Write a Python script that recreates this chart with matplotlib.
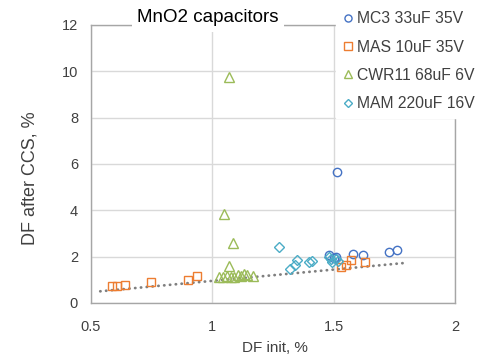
import numpy as np
import matplotlib
matplotlib.use("Agg")
import matplotlib.pyplot as plt

plt.rcParams['font.family'] = ['Liberation Sans', 'DejaVu Sans']

# series
mc3_x = [1.48, 1.50, 1.51, 1.515, 1.58, 1.62, 1.73, 1.76]
mc3_y = [2.05, 1.95, 2.0, 5.65, 2.1, 2.05, 2.2, 2.3]

mas_x = [0.59, 0.61, 0.64, 0.75, 0.90, 0.94, 1.53, 1.55, 1.57, 1.63]
mas_y = [0.72, 0.75, 0.76, 0.90, 1.00, 1.15, 1.55, 1.65, 1.85, 1.75]

cwr_x = [1.07, 1.05, 1.085, 1.07, 1.03, 1.045, 1.06, 1.08, 1.09, 1.105, 1.12, 1.13, 1.145, 1.17]
cwr_y = [9.75, 3.85, 2.6, 1.6, 1.1, 1.1, 1.15, 1.1, 1.1, 1.2, 1.15, 1.25, 1.2, 1.15]

mam_x = [1.275, 1.32, 1.34, 1.35, 1.40, 1.41, 1.48, 1.49, 1.495, 1.51, 1.52]
mam_y = [2.4, 1.45, 1.65, 1.85, 1.75, 1.8, 2.0, 1.9, 1.75, 1.9, 1.8]

trend_x = [0.54, 1.79]
trend_y = [0.50, 1.72]

labels = ['MC3 33uF 35V', 'MAS 10uF 35V', 'CWR11 68uF 6V', 'MAM 220uF 16V']

fig = plt.figure(figsize=(4.79, 3.61), dpi=100)
ax = fig.add_axes([0.189, 0.161, 0.761, 0.770])

# dotted trend line
ax.plot(trend_x, trend_y, color='#7f7f7f', linewidth=2, linestyle=(0, (0.1, 2)),
        dash_capstyle='round', zorder=2)

ms = 6
ax.plot(mc3_x, mc3_y, 'o', ms=ms, mfc='none', mec='#4472c4', mew=1, label=labels[0], zorder=3)
ax.plot(mas_x, mas_y, 's', ms=ms, mfc='none', mec='#ed7d31', mew=1, label=labels[1], zorder=3)
ax.plot(cwr_x, cwr_y, '^', ms=ms + 0.5, mfc='none', mec='#9bbb59', mew=1, label=labels[2], zorder=3)
ax.plot(mam_x, mam_y, 'D', ms=ms - 1, mfc='none', mec='#4bacc6', mew=1, label=labels[3], zorder=3)

ax.set_xlim(0.5, 2)
ax.set_ylim(0, 12)
ax.set_xticks([0.5, 1, 1.5, 2])
ax.set_xticklabels(['0.5', '1', '1.5', '2'])
ax.set_yticks(np.arange(0, 13, 2))
ax.grid(True, color='#d9d9d9', linewidth=1)
ax.set_axisbelow(True)
for s in ax.spines.values():
    s.set_color('#a6a6a6')
    s.set_linewidth(1)
ax.tick_params(axis='x', length=0, labelsize=10.5, colors='#404040', pad=12.5)
ax.tick_params(axis='y', length=0, labelsize=10.5, colors='#404040', pad=9)

ax.set_xlabel('DF init, %', fontsize=11, color='#404040', va='center')
ax.xaxis.set_label_coords(0.506, -0.162)
ax.set_ylabel('DF after CCS, %', fontsize=13, color='#404040', va='center')
ax.yaxis.set_label_coords(-0.167, 0.45)

ax.text(0.322, 1.025, 'MnO2 capacitors', transform=ax.transAxes, ha='center', va='center',
        fontsize=13.5, color='black',
        bbox=dict(facecolor='white', edgecolor='none', pad=4))

leg = ax.legend(loc='upper left', bbox_to_anchor=(335.5 / 479, 1 - 5 / 361),
                bbox_transform=fig.transFigure, frameon=True, fancybox=False,
                edgecolor='white', facecolor='white', framealpha=1,
                fontsize=11.3, markerscale=0.85, handlelength=0.8, handletextpad=0.15,
                labelspacing=0.85, borderaxespad=0)
for t in leg.get_texts():
    t.set_color('#404040')

fig.savefig('out.png', dpi=100)
